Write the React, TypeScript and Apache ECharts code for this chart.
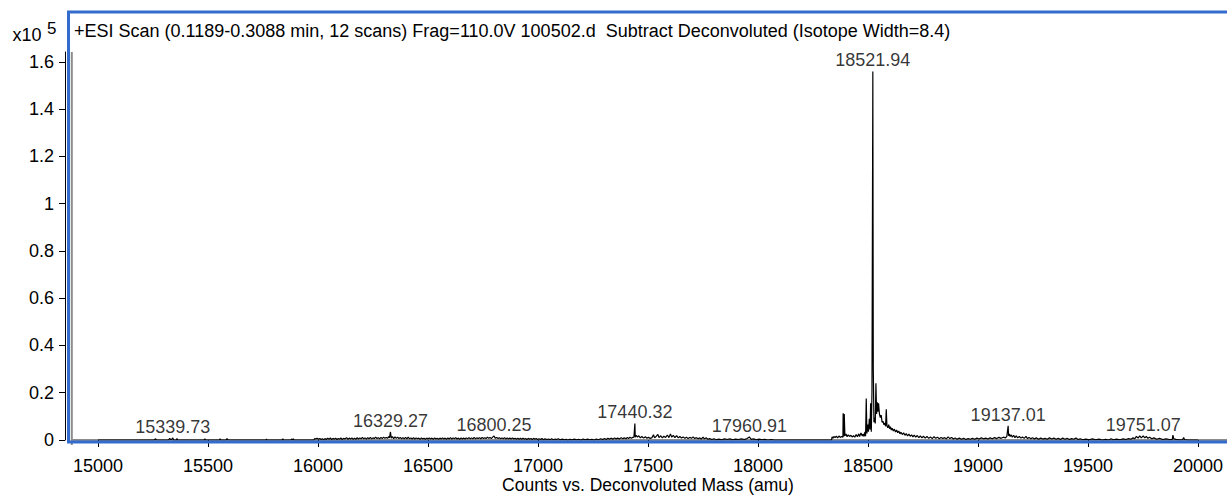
import React, { useEffect, useRef } from "react";
import * as echarts from "echarts";

// Deconvoluted spectrum, [mass (amu), counts]
const traceLow: [number, number][] = [
  [15000, 0], [15255, 0], [15262, 500], [15266, 0], [15320, 0], [15326, 700], [15330, 200],
  [15335, 300], [15339.73, 900], [15344, 0], [15356, 0], [15359, 600], [15362, 0], [15483, 0],
  [15486, 500], [15489, 0], [15552, 0], [15555, 500], [15558, 0], [15583, 0], [15586, 600],
  [15590, 200], [15594, 0], [15763, 0], [15766, 400], [15769, 0], [15837, 0], [15840, 500],
  [15843, 0], [15877, 0], [15880, 400], [15884, 100], [15888, 500], [15891, 0], [15980, 0],
  [15985, 600], [15990, 400], [15996, 700], [16002, 300], [16008, 600], [16014, 200],
];

const traceMid: [number, number][] = [
  [16020, 500], [16026, 100], [16032, 600], [16038, 200], [16044, 800], [16050, 300], [16056, 900],
  [16062, 200], [16068, 700], [16074, 300], [16080, 800], [16086, 200], [16092, 600], [16098, 300],
  [16104, 900], [16110, 200], [16116, 700], [16122, 400], [16130, 1000], [16136, 300], [16142, 800],
  [16148, 400], [16154, 900], [16160, 300], [16166, 800], [16172, 300], [16178, 1000], [16184, 400],
  [16190, 900], [16196, 500], [16202, 1100], [16208, 500], [16214, 900], [16220, 400], [16226, 1000],
  [16232, 500], [16238, 1100], [16244, 500], [16250, 900], [16256, 600], [16262, 1200], [16268, 600],
  [16274, 1000], [16280, 500], [16286, 1100], [16292, 600], [16298, 1200], [16304, 700],
  [16310, 1100], [16316, 700], [16321, 1400], [16325, 900], [16329.27, 3400], [16333, 800],
  [16338, 1400], [16344, 600], [16350, 1300], [16356, 700], [16362, 1200], [16368, 600],
  [16374, 1100], [16380, 500], [16386, 1000], [16392, 500], [16398, 1100], [16404, 500],
  [16410, 1200], [16416, 500], [16422, 900], [16428, 400], [16434, 1000], [16440, 400],
  [16446, 900], [16452, 500], [16458, 800], [16464, 300], [16470, 900], [16476, 400], [16482, 700],
  [16488, 300], [16494, 800], [16500, 400], [16506, 900], [16512, 400], [16518, 800], [16524, 300],
  [16530, 900], [16536, 400], [16542, 700], [16548, 300], [16554, 800], [16560, 400], [16566, 900],
  [16572, 400], [16578, 800], [16584, 300], [16590, 900], [16596, 400], [16602, 1000], [16608, 400],
  [16614, 900], [16620, 500], [16626, 1000], [16632, 400], [16638, 800], [16644, 300], [16650, 900],
  [16656, 400], [16662, 800], [16668, 400], [16674, 900], [16680, 500], [16686, 1000], [16692, 500],
  [16698, 900], [16704, 500], [16710, 1100], [16716, 500], [16722, 900], [16728, 600], [16734, 1000],
  [16740, 500], [16746, 1100], [16752, 600], [16758, 1000], [16764, 600], [16770, 1200],
  [16776, 700], [16782, 1100], [16788, 600], [16794, 1200], [16800.25, 1700], [16806, 700],
  [16812, 1100], [16818, 600], [16824, 1000], [16830, 500], [16836, 900], [16842, 500], [16848, 1000],
  [16854, 400], [16860, 900], [16866, 400], [16872, 800], [16878, 400], [16884, 900], [16890, 400],
  [16896, 700], [16902, 300], [16908, 800], [16914, 300], [16920, 700], [16926, 300], [16932, 800],
  [16938, 300], [16944, 600], [16950, 200], [16956, 700], [16962, 300], [16968, 600], [16974, 200],
  [16980, 700], [16986, 300], [16992, 600], [16998, 200], [17005, 500], [17012, 200], [17018, 600],
  [17025, 100], [17032, 500], [17040, 200], [17048, 400], [17055, 100], [17062, 500], [17070, 100],
  [17078, 400], [17085, 200], [17092, 500], [17100, 100], [17110, 400], [17120, 100], [17128, 300],
  [17135, 0], [17145, 300], [17155, 100], [17165, 400], [17175, 100], [17185, 300], [17195, 0],
  [17205, 400], [17215, 100], [17225, 400], [17235, 100], [17245, 300], [17255, 0], [17265, 400],
  [17275, 100], [17285, 500], [17295, 200], [17302, 600], [17310, 200], [17318, 700], [17325, 300],
  [17332, 800], [17340, 300], [17348, 900], [17355, 400], [17362, 800], [17370, 400], [17378, 1000],
  [17385, 500], [17392, 900], [17400, 500], [17406, 1100], [17412, 600], [17418, 1200], [17424, 700],
  [17430, 1100], [17436, 1200], [17440.32, 7000], [17442, 1200],
];

const traceUpper: [number, number][] = [
  [17446, 2000], [17452, 1200], [17458, 1800], [17465, 900], [17472, 1500], [17480, 800],
  [17488, 1400], [17495, 700], [17502, 1200], [17510, 600], [17518, 1000], [17525, 2200],
  [17530, 900], [17538, 1600], [17545, 2400], [17550, 1000], [17558, 1800], [17565, 900],
  [17572, 1600], [17580, 1100], [17588, 2100], [17595, 1000], [17602, 2600], [17608, 1200],
  [17615, 2000], [17622, 1000], [17630, 1800], [17638, 900], [17645, 1500], [17652, 800],
  [17660, 1300], [17668, 700], [17675, 1200], [17682, 600], [17690, 1100], [17698, 700],
  [17705, 1300], [17712, 600], [17720, 1000], [17728, 500], [17735, 900], [17742, 400],
  [17750, 1200], [17756, 500], [17765, 900], [17772, 300], [17780, 600], [17790, 200],
  [17800, 500], [17810, 100], [17822, 400], [17835, 100], [17848, 500], [17860, 200], [17872, 500],
  [17885, 100], [17898, 400], [17910, 200], [17925, 500], [17938, 200], [17950, 600],
  [17960.91, 1300], [17968, 300], [17980, 500], [17992, 100], [18005, 400], [18018, 100],
  [18030, 300], [18045, 0], [18060, 200], [18075, 0], [18100, 0], [18334, 0],
];

const traceProtein: [number, number][] = [
  [18337, 1300], [18341, 800], [18345, 1500], [18350, 1000], [18356, 1600], [18362, 900],
  [18368, 1700], [18374, 1100], [18380, 1500], [18386, 1200], [18387, 11300], [18390, 1500],
  [18392, 11000], [18395, 1800], [18400, 2500], [18405, 1400], [18410, 2200], [18416, 1500],
  [18422, 2000], [18428, 1300], [18434, 1800], [18440, 1200], [18446, 2300], [18452, 1400],
  [18458, 2600], [18462, 1500], [18468, 3000], [18474, 1700], [18478, 2600], [18482, 1500],
  [18486, 3400], [18489, 1600], [18492, 17600], [18495, 2800], [18499, 6500], [18502, 3500],
  [18506, 9000], [18509, 4500], [18512, 15500], [18515, 3500], [18518, 20000],
  [18521.94, 156000], [18524, 30000], [18527, 7500], [18530, 9500], [18533, 7000],
  [18536, 24000], [18539, 11000], [18542, 16000], [18545, 12000], [18548, 15500], [18552, 11000],
  [18556, 9500], [18560, 10500], [18564, 7500], [18568, 8000], [18572, 6500], [18576, 7200],
  [18580, 5800], [18583, 13000], [18586, 6000], [18590, 5200], [18594, 6500], [18598, 4800],
  [18602, 5600], [18606, 4200], [18610, 5000], [18615, 3800], [18620, 4600], [18625, 3400],
  [18630, 4200], [18635, 3100], [18640, 3800], [18645, 2600], [18650, 3300], [18656, 2300],
  [18662, 3000], [18668, 2000], [18674, 2700], [18680, 1700], [18686, 2500], [18692, 1600],
  [18698, 2200], [18704, 1300], [18710, 2100], [18717, 1200], [18724, 1900], [18731, 1000],
  [18738, 1700], [18745, 900], [18752, 1600], [18760, 800], [18768, 1500], [18776, 700],
  [18784, 1300], [18792, 600], [18800, 1400], [18808, 700], [18816, 1200], [18824, 500],
  [18832, 1100], [18840, 600], [18848, 1000], [18856, 500], [18864, 1300], [18872, 600],
  [18880, 1100], [18888, 400], [18896, 900], [18905, 300], [18915, 800], [18925, 300],
  [18935, 700], [18945, 200], [18955, 600], [18965, 300], [18975, 700], [18985, 300],
];

const traceHigh: [number, number][] = [
  [18995, 800], [19005, 400], [19015, 900], [19025, 500], [19035, 800], [19045, 400], [19055, 900],
  [19065, 500], [19075, 1000], [19085, 600], [19095, 1100], [19105, 700], [19115, 1200],
  [19125, 900], [19131, 1500], [19137.01, 6000], [19139, 1800], [19142, 2600], [19146, 1500],
  [19150, 2200], [19156, 1200], [19162, 2000], [19168, 1000], [19174, 1800], [19180, 900],
  [19188, 1500], [19195, 800], [19202, 1300], [19210, 700], [19218, 1500], [19225, 600],
  [19232, 1100], [19240, 500], [19248, 1000], [19256, 400], [19265, 900], [19275, 300],
  [19285, 800], [19295, 400], [19305, 700], [19315, 300], [19325, 900], [19335, 400], [19345, 800],
  [19355, 300], [19365, 700], [19375, 200], [19385, 800], [19395, 300], [19405, 700], [19415, 200],
  [19425, 600], [19435, 300], [19445, 800], [19455, 200], [19465, 500], [19475, 100], [19490, 400],
  [19505, 100], [19520, 500], [19535, 100], [19550, 400], [19565, 0], [19580, 300], [19595, 0],
  [19605, 500], [19615, 100], [19630, 400], [19645, 100], [19660, 500], [19672, 200], [19685, 600],
  [19695, 300], [19705, 900], [19712, 500], [19720, 1500], [19728, 800], [19735, 1800],
  [19742, 900], [19751.07, 1700], [19758, 900], [19765, 1500], [19772, 700], [19780, 1200],
  [19790, 500], [19800, 900], [19812, 300], [19825, 700], [19840, 200], [19855, 500], [19870, 200],
  [19883, 300], [19886, 2100], [19890, 500], [19900, 300], [19915, 100], [19930, 200],
  [19935, 1100], [19938, 200], [19955, 0], [20000, 0],
];

const labelledMasses = [15339.73, 16329.27, 16800.25, 17440.32, 17960.91, 18521.94, 19137.01, 19751.07];

const yTickValues = [0, 20000, 40000, 60000, 80000, 100000, 120000, 140000, 160000];
const xTickValues = [15000, 15500, 16000, 16500, 17000, 17500, 18000, 18500, 19000, 19500, 20000];

const titleText =
  "+ESI Scan (0.1189-0.3088 min, 12 scans) Frag=110.0V 100502.d  Subtract Deconvoluted (Isotope Width=8.4)";
const xAxisTitle = "Counts vs. Deconvoluted Mass (amu)";

const FONT = "'Liberation Sans', Arial, Helvetica, sans-serif";
const BLUE = "#336ccc";
const GRAY = "#8c8c8c";

export default function App() {
  const ref = useRef<HTMLDivElement>(null);

  useEffect(() => {
    if (!ref.current) return;
    const chart = echarts.init(ref.current, undefined, { renderer: "svg" });
    const spectrum = [...traceLow, ...traceMid, ...traceUpper, ...traceProtein, ...traceHigh];
    const labelPoints = labelledMasses.map((m) => {
      const p = spectrum.find((d) => d[0] === m);
      return [m, p ? p[1] : 0];
    });

    chart.setOption({
      animation: false,
      textStyle: { fontFamily: FONT },
      grid: { left: 72, right: 0, top: 52, bottom: 56, containLabel: false, outerBoundsMode: "none" },
      xAxis: {
        type: "value",
        min: 14881.8,
        max: 20131.8,
        offset: 4.5,
        axisLine: { show: true, lineStyle: { color: GRAY, width: 2 } },
        axisTick: { show: true, customValues: xTickValues, length: 7, lineStyle: { color: "#000", width: 1 } },
        axisLabel: {
          customValues: xTickValues,
          fontSize: 18,
          color: "#000",
          margin: 12,
          fontFamily: FONT,
          formatter: (v: number) => String(v),
        },
        splitLine: { show: false },
      },
      yAxis: {
        type: "value",
        min: 0,
        max: 164230,
        offset: 7,
        axisLine: { show: true, lineStyle: { color: "#000", width: 1 } },
        axisTick: { show: true, customValues: yTickValues, length: 6, lineStyle: { color: "#000", width: 1 } },
        axisLabel: {
          customValues: yTickValues,
          fontSize: 18,
          color: "#000",
          margin: 11,
          fontFamily: FONT,
          formatter: (v: number) => (v === 0 ? "0" : String(+(v / 100000).toFixed(1))),
        },
        splitLine: { show: false },
      },
      series: [
        {
          type: "line",
          data: spectrum,
          symbol: "none",
          lineStyle: { color: "#000", width: 1.2 },
          z: 3,
        },
        {
          type: "scatter",
          data: labelPoints,
          symbolSize: 0,
          z: 4,
          label: {
            show: true,
            position: "top",
            distance: 2,
            fontSize: 18,
            color: "#000",
            fontFamily: FONT,
            formatter: (p: any) => p.value[0].toFixed(2),
          },
        },
      ],
      graphic: [
        {
          type: "rect",
          z: 10,
          silent: true,
          shape: { x: 68.5, y: 12, width: 1200, height: 430 },
          style: { fill: "none", stroke: BLUE, lineWidth: 3 },
        },
        {
          type: "line",
          z: 9,
          silent: true,
          shape: { x1: 71.8, y1: 52, x2: 71.8, y2: 445 },
          style: { stroke: GRAY, lineWidth: 2 },
        },
        {
          type: "text",
          z: 11,
          x: 74,
          y: 31,
          style: { text: titleText, fill: "#000", font: `18px ${FONT}`, verticalAlign: "middle" },
        },
        {
          type: "text",
          z: 11,
          x: 12.5,
          y: 35,
          style: { text: "x10", fill: "#000", font: `18px ${FONT}`, verticalAlign: "middle" },
        },
        {
          type: "text",
          z: 11,
          x: 47,
          y: 28,
          style: { text: "5", fill: "#000", font: `17px ${FONT}`, verticalAlign: "middle" },
        },
        {
          type: "text",
          z: 11,
          x: 648,
          y: 485,
          style: {
            text: xAxisTitle,
            fill: "#000",
            font: `17.5px ${FONT}`,
            align: "center",
            verticalAlign: "middle",
          },
        },
      ],
    });

    return () => chart.dispose();
  }, []);

  return (
    <div
      ref={ref}
      style={{ position: "fixed", left: 0, top: 0, width: 1227, height: 496, background: "#fff" }}
    />
  );
}
